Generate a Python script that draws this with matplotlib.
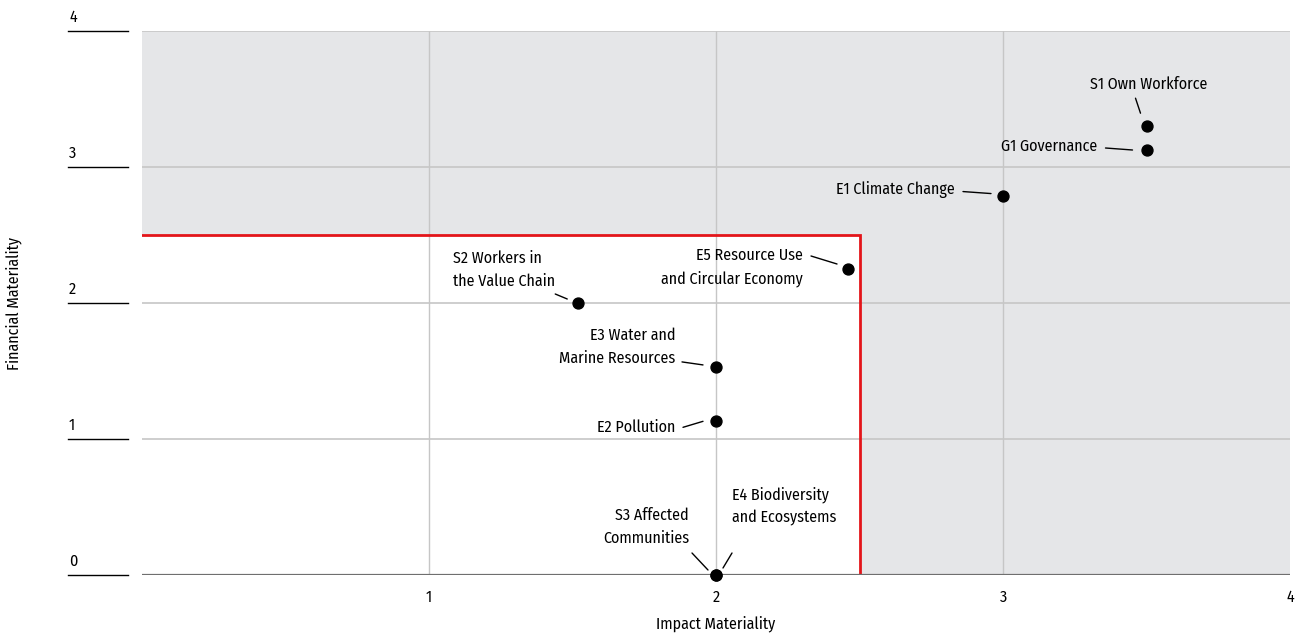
import matplotlib
matplotlib.use("Agg")
import matplotlib.pyplot as plt
from matplotlib.transforms import offset_copy
from matplotlib.patches import Rectangle

plt.rcParams['font.family'] = ['Fira Sans Condensed', 'Barlow Semi Condensed', 'DejaVu Sans']

# Data
topics = ["S1 Own Workforce", "G1 Governance", "E1 Climate Change",
          "E5 Resource Use\nand Circular Economy", "S2 Workers in\nthe Value Chain",
          "E3 Water and\nMarine Resources", "E2 Pollution",
          "S3 Affected\nCommunities", "E4 Biodiversity\nand Ecosystems"]
impact = [3.5, 3.5, 3.0, 2.46, 1.52, 2.0, 2.0, 2.0, 2.0]
financial = [3.30, 3.125, 2.79, 2.25, 2.0, 1.53, 1.13, 0.0, 0.0]
threshold = 2.5
x_ticks = [1, 2, 3, 4]
y_ticks = [0, 1, 2, 3, 4]

# label placement: (text dx, text dy, ha, va, leader start dx,dy, leader end dx,dy) in pixels (y up)
placements = [
    (2, 42, 'center', 'center', -11, 28, -6, 13),
    (-49, 4, 'right', 'center', -41, 2, -14, 0),
    (-48, 6, 'right', 'center', -40, 4, -12, 2),
    (-45, 2, 'right', 'center', -37, 13, -11, 5),
    (-125, 33, 'left', 'center', -23, 9, -11, 4),
    (-41, 20, 'right', 'center', -34, 5, -13, 2),
    (-41, -6, 'right', 'center', -33, -6, -13, 0),
    (-27, 48, 'right', 'center', -24, 22, -8, 5),
    (16, 69, 'left', 'center', 7, 7, 16, 22),
]

FS = 11.5

fig = plt.figure(figsize=(12.99, 6.37), dpi=100)
ax = fig.add_axes([142/1299, 1-575/637, 1148/1299, 544/637])
ax.set_xlim(0, 4)
ax.set_ylim(0, 4)
ax.set_facecolor('#e5e6e8')

ax.add_patch(Rectangle((0, 0), threshold, threshold, facecolor='white',
                       edgecolor='none', zorder=0.5))
for xt in x_ticks[:-1]:
    ax.axvline(xt, color='#c6c6c6', lw=1, zorder=1)
for yt in y_ticks[1:]:
    ax.axhline(yt, color='#c6c6c6', lw=1.2, zorder=1)
ax.plot([0, threshold, threshold], [threshold, threshold, 0], color='#e3151a',
        lw=2, zorder=2, solid_joinstyle='miter')
ax.axhline(0, color='#6f6f6f', lw=1.6, zorder=3)

for s in ax.spines.values():
    s.set_visible(False)
ax.set_xticks(x_ticks)
ax.set_xticklabels([str(t) for t in x_ticks], fontsize=FS)
ax.tick_params(axis='x', length=0, pad=10)
ax.set_yticks([])

# custom y tick labels with lines
ytr = ax.get_yaxis_transform()
for yt in y_ticks:
    ax.plot([-74/1148, -14/1148], [yt, yt], color='black', lw=1, transform=ytr,
            clip_on=False)
    ax.text(-73/1148, yt, str(yt), transform=offset_copy(ytr, fig, x=0, y=6, units='dots'),
            ha='left', va='bottom', fontsize=FS)

ax.set_xlabel('Impact Materiality', fontsize=FS, labelpad=8)
fig.text(14/1299, 1-303/637, 'Financial Materiality', rotation=90, ha='center',
         va='center', fontsize=FS)

ax.scatter(impact, financial, s=62, color='black', zorder=5, clip_on=False)

for name, x, y, p in zip(topics, impact, financial, placements):
    tdx, tdy, ha, va, l1x, l1y, l2x, l2y = p
    ax.text(x, y, name, transform=offset_copy(ax.transData, fig, x=tdx, y=tdy, units='dots'),
            ha=ha, va=va, multialignment=ha if ha != 'center' else 'center',
            fontsize=FS, linespacing=1.55, zorder=6)
    ax.annotate('', xy=(x, y), xycoords=offset_copy(ax.transData, fig, x=l2x, y=l2y, units='dots'),
                xytext=(x, y), textcoords=offset_copy(ax.transData, fig, x=l1x, y=l1y, units='dots'),
                arrowprops=dict(arrowstyle='-', color='black', lw=1, shrinkA=0, shrinkB=0),
                zorder=6)

fig.savefig('out.png', dpi=100)
